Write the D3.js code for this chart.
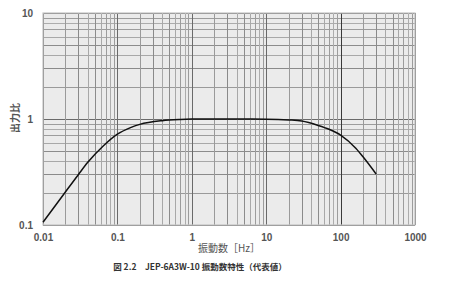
<!DOCTYPE html>
<meta charset="utf-8">
<script src="https://d3js.org/d3.v7.min.js"></script>
<style>
  body { margin: 0; background: #fff; }
  text { font-family: "Liberation Sans", Arial, sans-serif; }
</style>
<body>
<div id="chart"></div>
<script>

  // response curve
  var freq  = [0.01, 0.02, 0.03, 0.04, 0.065, 0.1, 0.15, 0.2, 0.4, 0.7, 1, 2, 5, 10, 20, 30, 50, 70, 100, 160, 200, 300];
  var ratio = [0.106, 0.205, 0.30, 0.39, 0.56, 0.72, 0.83, 0.89, 0.965, 0.99, 0.998, 1.0, 1.0, 0.997, 0.98, 0.957, 0.87, 0.80, 0.706, 0.53, 0.44, 0.303];

  var xTicks = [0.01, 0.1, 1, 10, 100, 1000];
  var xTickLabels = ["0.01", "0.1", "1", "10", "100", "1000"];
  var yTicks = [0.1, 1, 10];
  var yTickLabels = ["0.1", "1", "10"];

  var xTitle = "振動数［Hz］";
  var yTitle = "出力比";
  var caption = "図 2.2　JEP-6A3W-10 振動数特性（代表値）";

  var W = 452, H = 288;
  var margin = {top: 13, right: 37, bottom: 63, left: 43},
      width = W - margin.left - margin.right,
      height = H - margin.top - margin.bottom;

  var svg = d3.select("#chart")
    .append("svg")
      .attr("width", W)
      .attr("height", H);

  var g = svg.append("g")
      .attr("transform", "translate(" + margin.left + "," + margin.top + ")");

  var x = d3.scaleLog()
    .domain([0.01, 1000])
    .range([0, width]);

  var y = d3.scaleLog()
    .domain([0.1, 10])
    .range([height, 0]);

  // plot background
  g.append("rect")
    .attr("width", width)
    .attr("height", height)
    .attr("fill", "#ebebeb");

  // log grid, shades differ a little per multiplier like the scanned paper
  var shade = {1: "#6a6a6a", 2: "#9a9a9a", 3: "#8a8a8a", 4: "#a8a8a8", 5: "#8c8c8c",
               6: "#a8a8a8", 7: "#9c9c9c", 8: "#acacac", 9: "#9c9c9c"};

  var vLines = [];
  [0.01, 0.1, 1, 10, 100].forEach(function(d) {
    for (var m = 1; m <= 9; m++) vLines.push({v: d * m, m: m});
  });
  vLines.push({v: 1000, m: 1});

  var hLines = [];
  [0.1, 1].forEach(function(d) {
    for (var m = 1; m <= 9; m++) hLines.push({v: d * m, m: m});
  });
  hLines.push({v: 10, m: 1});

  g.append("g").selectAll("line")
    .data(hLines)
    .enter().append("line")
      .attr("x1", 0)
      .attr("x2", width)
      .attr("y1", function(d) { return Math.round(y(d.v)) + 0.5; })
      .attr("y2", function(d) { return Math.round(y(d.v)) + 0.5; })
      .attr("stroke", function(d) { return shade[d.m]; })
      .attr("stroke-width", 1);

  g.append("g").selectAll("line")
    .data(vLines)
    .enter().append("line")
      .attr("x1", function(d) { return Math.round(x(d.v)) + 0.5; })
      .attr("x2", function(d) { return Math.round(x(d.v)) + 0.5; })
      .attr("y1", 0)
      .attr("y2", height)
      .attr("stroke", function(d) { return d.v === 100 ? "#3a3a3a" : shade[d.m]; })
      .attr("stroke-width", 1);

  // frame
  g.append("rect")
    .attr("width", width)
    .attr("height", height)
    .attr("fill", "none")
    .attr("stroke", "#c4c4c4")
    .attr("stroke-width", 1.2);

  // curve
  var pts = freq.map(function(f, i) { return [f, ratio[i]]; });
  g.append("path")
    .datum(pts)
    .attr("fill", "none")
    .attr("stroke", "#111")
    .attr("stroke-width", 1.5)
    .attr("d", d3.line()
      .x(function(d) { return x(d[0]); })
      .y(function(d) { return y(d[1]); })
      .curve(d3.curveMonotoneX));

  // axes (labels only, lines are drawn by the grid)
  var xAxis = g.append("g")
    .attr("transform", "translate(0," + height + ")")
    .call(d3.axisBottom(x).tickValues(xTicks)
      .tickFormat(function(d, i) { return xTickLabels[i]; })
      .tickSize(0).tickPadding(9));
  xAxis.select(".domain").remove();
  xAxis.selectAll("text")
    .attr("font-size", "10px")
    .attr("font-weight", "bold")
    .attr("fill", "#555");

  var yAxis = g.append("g")
    .call(d3.axisLeft(y).tickValues(yTicks)
      .tickFormat(function(d, i) { return yTickLabels[i]; })
      .tickSize(0).tickPadding(10));
  yAxis.select(".domain").remove();
  yAxis.selectAll("text")
    .attr("font-size", "10px")
    .attr("font-weight", "bold")
    .attr("fill", "#555");

  svg.append("text")
    .attr("x", 229)
    .attr("y", 252)
    .attr("text-anchor", "middle")
    .attr("font-size", "10px")
    .attr("fill", "#555")
    .style("font-family", "'Noto Sans CJK JP', sans-serif")
    .text(xTitle);

  svg.append("text")
    .attr("transform", "translate(19,118) rotate(-90)")
    .attr("text-anchor", "middle")
    .attr("font-size", "10px")
    .attr("font-weight", "bold")
    .attr("fill", "#555")
    .style("font-family", "'Noto Sans CJK JP', sans-serif")
    .text(yTitle);

  svg.append("text")
    .attr("x", 200)
    .attr("y", 270)
    .attr("text-anchor", "middle")
    .attr("font-size", "8.5px")
    .attr("font-weight", "bold")
    .attr("fill", "#333")
    .style("font-family", "'Noto Sans CJK JP', sans-serif")
    .text(caption);

</script>
</body>
